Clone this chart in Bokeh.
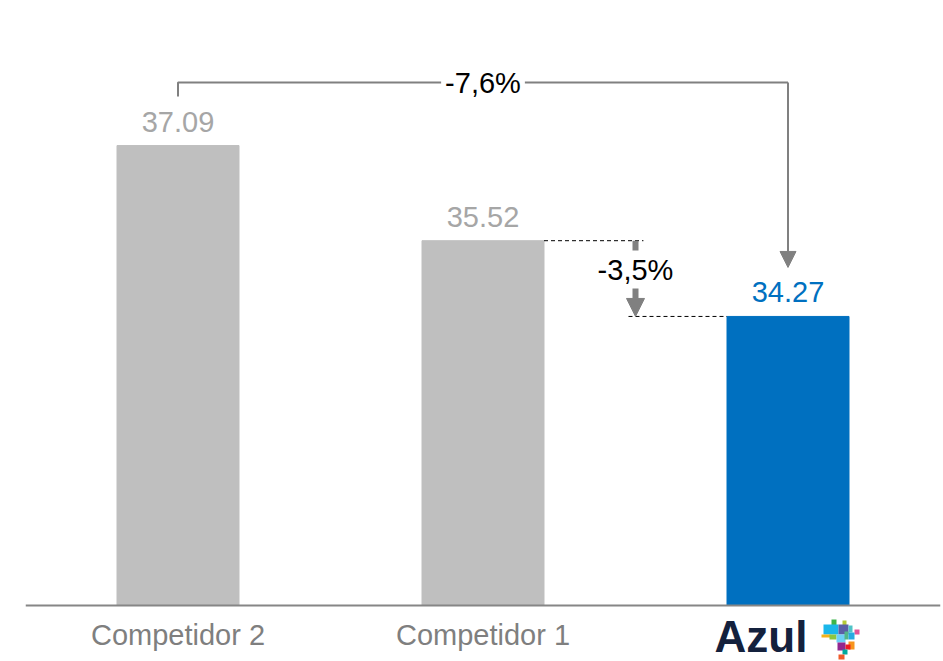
from bokeh.plotting import figure
from bokeh.models import (Range1d, Label, LabelSet, ColumnDataSource,
                          Arrow, NormalHead, Span)
from bokeh.core.properties import value
from bokeh.embed import file_html
from bokeh.resources import INLINE

# ---- data ----
categories = ["Competidor 2", "Competidor 1", "Azul"]
values = [37.09, 35.52, 34.27]
value_labels = ["37.09", "35.52", "34.27"]
diff_labels = ["-7,6%", "-3,5%"]

# ---- styles ----
bar_colors = ["#BFBFBF", "#BFBFBF", "#0070C0"]
label_colors = ["#A6A6A6", "#A6A6A6", "#0070C0"]
GRAY = "#808080"
FONT = "Liberation Sans"
FS = "29px"

Y0 = 29.5          # axis baseline value
PX = 60.6          # pixels per unit on y
AX_Y = 605         # pixel row of the axis line
H = 661
FRAME_W = 915

p = figure(width=943, height=H,
           x_range=Range1d(-0.5, 2.5),
           y_range=Range1d(Y0 - (H - AX_Y) / PX, Y0 + AX_Y / PX),
           output_backend="svg", toolbar_location=None,
           x_axis_location=None, y_axis_location=None,
           min_border_left=25, min_border_right=3, min_border_top=0, min_border_bottom=0)
p.outline_line_color = None
p.xgrid.visible = False
p.ygrid.visible = False
p.background_fill_color = "white"
p.border_fill_color = "white"

xs = list(range(len(categories)))
src = ColumnDataSource(dict(x=xs, top=values, color=bar_colors,
                            label=value_labels, lcolor=label_colors))
p.vbar(x="x", top="top", bottom=Y0, width=0.4, color="color", source=src)

# category axis line and labels
p.add_layout(Span(location=Y0, dimension="width", line_color="#868686", line_width=2))
p.text(x=xs[:2], y=[Y0 - 29 / PX] * 2, text=categories[:2], text_align="center",
       text_baseline="alphabetic", text_font=value(FONT), text_font_size=FS,
       text_color="#7F7F7F")

# value labels
p.add_layout(LabelSet(x="x", y="top", text="label", text_color="lcolor", source=src,
                      y_offset=14, text_align="center", text_baseline="alphabetic",
                      text_font=value(FONT), text_font_size=FS))

# bracket -7,6%
stub = 49 / PX
y_br = values[0] + 63 / PX
p.line(x=[xs[0], xs[0], xs[2]], y=[values[0] + stub, y_br, y_br],
       line_color=GRAY, line_width=2)
p.add_layout(Arrow(x_start=xs[2], y_start=y_br, x_end=xs[2], y_end=values[2] + stub,
                   line_color=GRAY, line_width=2,
                   end=NormalHead(size=16, fill_color=GRAY, line_color=GRAY)))
p.add_layout(Label(x=xs[1], y=y_br, text=diff_labels[0], text_align="center",
                   text_baseline="middle", text_font=FONT, text_font_size=FS,
                   text_color="black", background_fill_color="white", padding=4))

# dashed guides and -3,5% arrow
xm = (xs[1] + xs[2]) / 2
p.segment(x0=[xs[1] + 0.2, xm - 0.023], x1=[xm + 0.026, xs[2] - 0.2],
          y0=[values[1], values[2]], y1=[values[1], values[2]],
          line_color="black", line_width=1, line_dash="4 3")
p.add_layout(Arrow(x_start=xm, y_start=values[1], x_end=xm, y_end=values[2],
                   line_color=GRAY, line_width=6,
                   end=NormalHead(size=18, fill_color=GRAY, line_color=GRAY)))
p.add_layout(Label(x=xm, y=(values[1] + values[2]) / 2 + 9 / PX, text=diff_labels[1],
                   text_align="center", text_baseline="middle", text_font=FONT,
                   text_font_size=FS, text_color="black",
                   background_fill_color="white", padding=3))

# Azul logo (decoration below the axis)
def dx(px):
    return (px - 25) / (FRAME_W / 3) - 0.5

def dy(py):
    return Y0 - (py - AX_Y) / PX

p.text(x=[dx(714)], y=[dy(660)], text=[categories[2]], text_align="left",
       text_baseline="bottom", text_font=value(FONT), text_font_style="bold",
       text_font_size="44px", text_color="#14213D")

logo_squares = [
    (831, 836, 619, 625, "#3CB54A"), (842, 846, 620, 625, "#B5C935"),
    (823, 838, 624, 634, "#1AB7EA"), (838, 848, 624, 634, "#5B5EA6"),
    (848, 852, 625, 632, "#4FC3C7"), (854, 859, 629, 634, "#E25598"),
    (821, 830, 634, 637, "#F6B31B"), (829, 836, 634, 639, "#8DC63F"),
    (836, 845, 634, 642, "#6DCFF6"), (844, 848, 631, 639, "#52B788"),
    (848, 854, 632, 639, "#27AAE1"), (837, 845, 642, 650, "#92278F"),
    (848, 854, 641, 649, "#F7941D"), (845, 850, 644, 649, "#ED1C24"),
    (842, 847, 649, 654, "#00A99D"), (838, 844, 654, 659, "#F15A29"),
]
p.quad(left=[dx(s[0]) for s in logo_squares], right=[dx(s[1]) for s in logo_squares],
       top=[dy(s[2]) for s in logo_squares], bottom=[dy(s[3]) for s in logo_squares],
       fill_color=[s[4] for s in logo_squares], line_color=None)

open("out.html", "w").write(file_html(p, INLINE))
